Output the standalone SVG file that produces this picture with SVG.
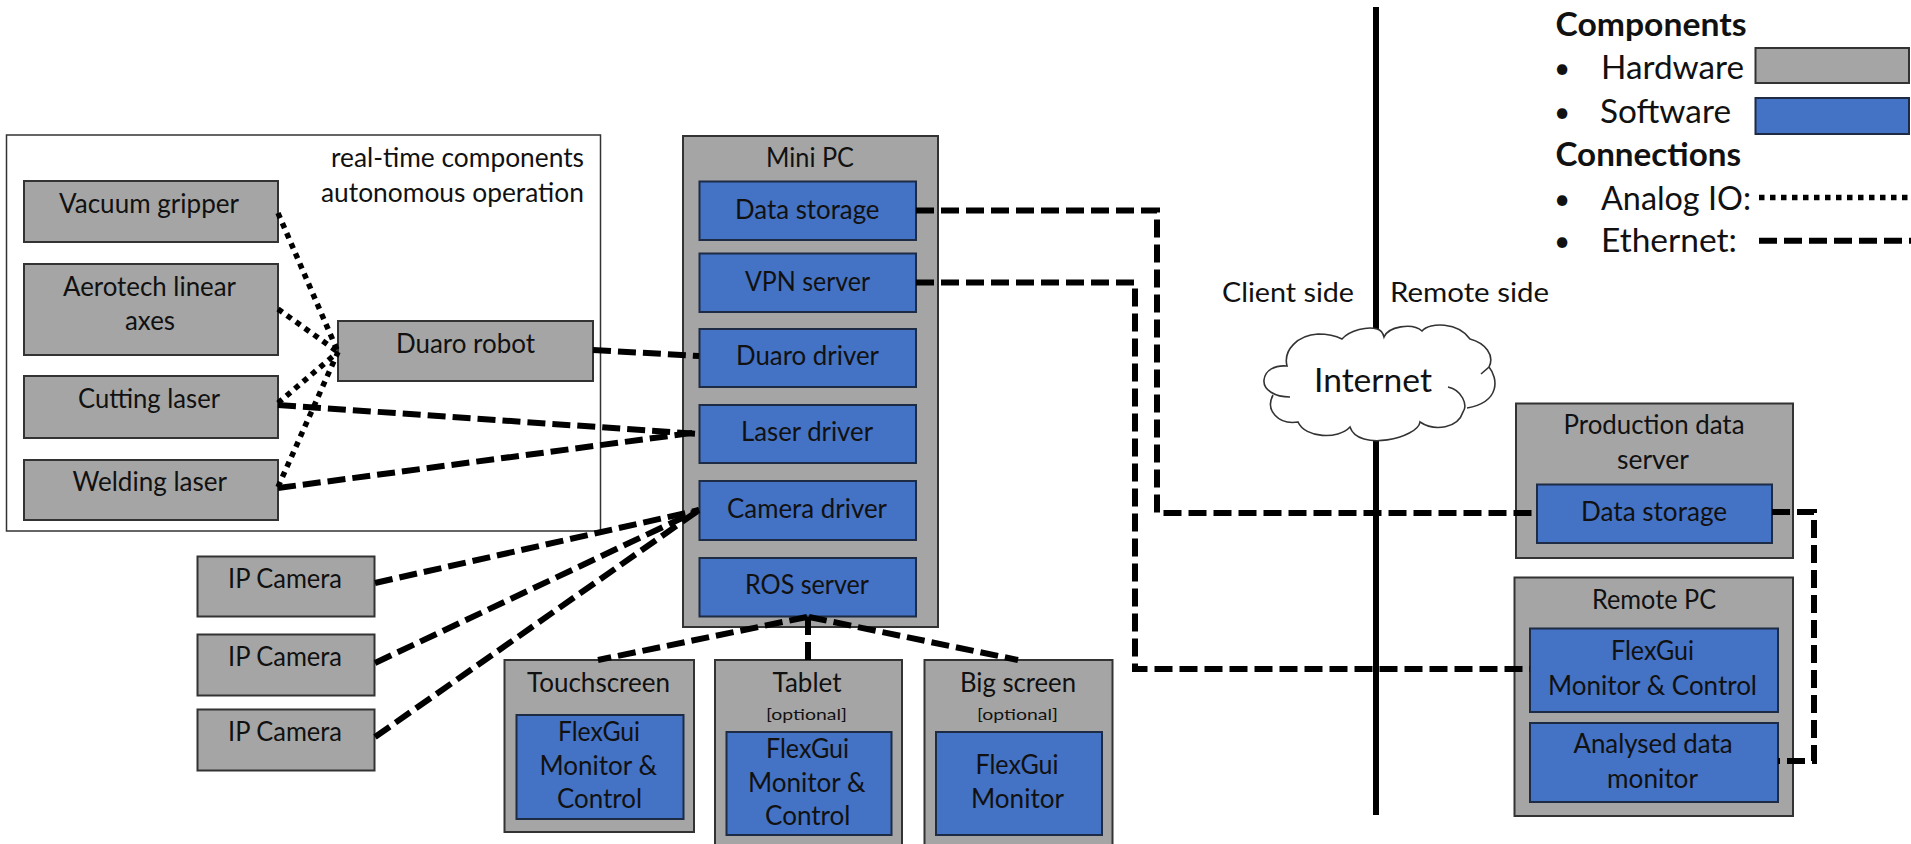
<svg xmlns="http://www.w3.org/2000/svg" width="1911" height="844" viewBox="0 0 1911 844">
<style>
text{font-family:Lato,"Open Sans","Liberation Sans",sans-serif;font-size:26px;fill:#111}
.l{font-size:32px}.b{font-size:32px;font-weight:700}.s{font-size:16px}.i{font-size:33px}.dot{font-size:28px}
.hw{fill:#a5a5a5;stroke:#333;stroke-width:2}
.sw{fill:#4472c4;stroke:#1d2b45;stroke-width:2}
.eth{fill:none;stroke:#000;stroke-width:6;stroke-dasharray:18 7}
.io{fill:none;stroke:#000;stroke-width:5.5;stroke-dasharray:5.5 5.5}
</style>
<rect width="1911" height="844" fill="#fff"/>
<g id="internet-divider"><path d="M1376 7V335M1376 440V815" stroke="#000" stroke-width="6" fill="none"/></g>
<g id="internet">
<path d="M1290 397C1275 397 1263 390 1264 380C1265 370 1275 365 1287 366C1283 350 1298 335 1318 334C1328 334 1336 336 1342 339C1350 330 1368 326 1377 329C1381 330 1383 333 1384 337C1388 327 1412 322 1422 331C1430 322 1458 322 1470 339C1485 343 1495 355 1489 367C1498 378 1501 402 1467 408C1465 425 1440 432 1420 422C1418 438 1358 452 1350 427C1338 440 1305 438 1298 422C1278 425 1265 410 1273 395Z" fill="#fff"/>
<path d="M1290 397C1275 397 1263 390 1264 380C1265 370 1275 365 1287 366C1283 350 1298 335 1318 334C1328 334 1336 336 1342 339C1350 330 1368 326 1377 329C1381 330 1383 333 1384 337C1388 327 1412 322 1422 331C1430 322 1458 322 1470 339C1485 343 1495 355 1489 367L1481 374M1489 367C1498 378 1501 402 1467 408M1448 387C1462 390 1468 405 1463 412C1458 428 1435 432 1420 422C1418 438 1358 452 1350 427C1338 440 1305 438 1298 422C1278 425 1265 410 1273 395" fill="none" stroke="#333" stroke-width="1.6"/>
<text class="i" x="1314" y="392" textLength="118" lengthAdjust="spacingAndGlyphs">Internet</text>
</g>
<g id="rt-container"><rect x="6.5" y="135" width="594" height="396" fill="#fff" stroke="#333" stroke-width="1.5"/>
<text x="331" y="167" textLength="253" lengthAdjust="spacingAndGlyphs">real-time components</text>
<text x="321" y="202" textLength="263" lengthAdjust="spacingAndGlyphs">autonomous operation</text></g>
<g id="vacuum"><rect class="hw" x="24" y="181" width="254" height="61"/><text x="59" y="213" textLength="180" lengthAdjust="spacingAndGlyphs">Vacuum gripper</text></g>
<g id="aerotech"><rect class="hw" x="24" y="264" width="254" height="91"/><text x="63" y="296" textLength="173" lengthAdjust="spacingAndGlyphs">Aerotech linear</text><text x="125" y="330" textLength="50" lengthAdjust="spacingAndGlyphs">axes</text></g>
<g id="cutting"><rect class="hw" x="24" y="376" width="254" height="62"/><text x="78" y="408" textLength="142" lengthAdjust="spacingAndGlyphs">Cutting laser</text></g>
<g id="welding"><rect class="hw" x="24" y="460" width="254" height="60"/><text x="72.500" y="491" textLength="154.500" lengthAdjust="spacingAndGlyphs">Welding laser</text></g>
<g id="duaro"><rect class="hw" x="338" y="321" width="255" height="60"/><text x="396" y="353" textLength="139" lengthAdjust="spacingAndGlyphs">Duaro robot</text></g>
<g id="minipc"><rect class="hw" x="683" y="136" width="255" height="491"/><text x="766" y="167" textLength="88" lengthAdjust="spacingAndGlyphs">Mini PC</text>
<g id="mp-data"><rect class="sw" x="699.500" y="181.500" width="216.500" height="58.500"/><text x="735" y="219" textLength="144.500" lengthAdjust="spacingAndGlyphs">Data storage</text></g>
<g id="mp-vpn"><rect class="sw" x="699.500" y="253.500" width="216.500" height="58.500"/><text x="745" y="291" textLength="125" lengthAdjust="spacingAndGlyphs">VPN server</text></g>
<g id="mp-duaro"><rect class="sw" x="699.500" y="329" width="216.500" height="58"/><text x="736" y="365" textLength="143" lengthAdjust="spacingAndGlyphs">Duaro driver</text></g>
<g id="mp-laser"><rect class="sw" x="699.500" y="405" width="216.500" height="58"/><text x="741" y="441" textLength="132" lengthAdjust="spacingAndGlyphs">Laser driver</text></g>
<g id="mp-camera"><rect class="sw" x="699.500" y="481" width="216.500" height="59"/><text x="727" y="518" textLength="160" lengthAdjust="spacingAndGlyphs">Camera driver</text></g>
<g id="mp-ros"><rect class="sw" x="699.500" y="558" width="216.500" height="58.500"/><text x="745" y="594" textLength="124" lengthAdjust="spacingAndGlyphs">ROS server</text></g>
</g>
<g id="cam1"><rect class="hw" x="197.500" y="556.500" width="177" height="60"/><text x="228" y="588" textLength="114" lengthAdjust="spacingAndGlyphs">IP Camera</text></g>
<g id="cam2"><rect class="hw" x="197.500" y="634.500" width="177" height="61"/><text x="228" y="666" textLength="114" lengthAdjust="spacingAndGlyphs">IP Camera</text></g>
<g id="cam3"><rect class="hw" x="197.500" y="709.500" width="177" height="61"/><text x="228" y="741" textLength="114" lengthAdjust="spacingAndGlyphs">IP Camera</text></g>
<g id="touchscreen"><rect class="hw" x="504.500" y="660" width="189.500" height="172"/><text x="527" y="692" textLength="143" lengthAdjust="spacingAndGlyphs">Touchscreen</text>
<rect class="sw" x="516.500" y="715" width="167" height="104"/>
<text x="558" y="741" textLength="82" lengthAdjust="spacingAndGlyphs">FlexGui</text><text x="539.500" y="775" textLength="117.500" lengthAdjust="spacingAndGlyphs">Monitor &amp;</text><text x="557" y="808" textLength="85" lengthAdjust="spacingAndGlyphs">Control</text></g>
<g id="tablet"><rect class="hw" x="715" y="660" width="187" height="190"/><text x="772.500" y="692" textLength="69" lengthAdjust="spacingAndGlyphs">Tablet</text><text class="s" x="766" y="720" textLength="81" lengthAdjust="spacingAndGlyphs">[optional]</text>
<rect class="sw" x="726.500" y="732" width="165" height="103"/>
<text x="766" y="758" textLength="83" lengthAdjust="spacingAndGlyphs">FlexGui</text><text x="748" y="792" textLength="117.500" lengthAdjust="spacingAndGlyphs">Monitor &amp;</text><text x="765" y="825" textLength="85.500" lengthAdjust="spacingAndGlyphs">Control</text></g>
<g id="bigscreen"><rect class="hw" x="924.500" y="660" width="188" height="190"/><text x="960" y="692" textLength="116" lengthAdjust="spacingAndGlyphs">Big screen</text><text class="s" x="977" y="720" textLength="81" lengthAdjust="spacingAndGlyphs">[optional]</text>
<rect class="sw" x="936" y="732" width="166" height="103"/>
<text x="975.500" y="774" textLength="83" lengthAdjust="spacingAndGlyphs">FlexGui</text><text x="971" y="808" textLength="93" lengthAdjust="spacingAndGlyphs">Monitor</text></g>
<g id="production"><rect class="hw" x="1516" y="403.500" width="277" height="154.500"/><text x="1563.500" y="434" textLength="181" lengthAdjust="spacingAndGlyphs">Production data</text><text x="1617" y="469" textLength="72" lengthAdjust="spacingAndGlyphs">server</text>
<rect class="sw" x="1537" y="484.500" width="235" height="58.500"/><text x="1581" y="521" textLength="146" lengthAdjust="spacingAndGlyphs">Data storage</text></g>
<g id="remote"><rect class="hw" x="1514.500" y="577.500" width="278.500" height="238.500"/><text x="1592" y="609" textLength="124" lengthAdjust="spacingAndGlyphs">Remote PC</text>
<rect class="sw" x="1530" y="628.500" width="248" height="83.500"/><text x="1611" y="660" textLength="83" lengthAdjust="spacingAndGlyphs">FlexGui</text><text x="1548" y="695" textLength="209" lengthAdjust="spacingAndGlyphs">Monitor &amp; Control</text>
<rect class="sw" x="1530" y="723" width="248" height="79"/><text x="1573.500" y="753" textLength="159" lengthAdjust="spacingAndGlyphs">Analysed data</text><text x="1607" y="788" textLength="91" lengthAdjust="spacingAndGlyphs">monitor</text></g>
<g id="labels">
<text x="1222" y="302" textLength="132" lengthAdjust="spacingAndGlyphs">Client side</text>
<text x="1390" y="302" textLength="159" lengthAdjust="spacingAndGlyphs">Remote side</text></g>
<g id="legend">
<text class="b" x="1555.500" y="36" textLength="191" lengthAdjust="spacingAndGlyphs">Components</text>
<text class="dot" x="1554" y="78">•</text><text class="l" x="1601" y="79" textLength="143" lengthAdjust="spacingAndGlyphs">Hardware</text>
<rect class="hw" x="1755.500" y="48" width="153.500" height="35"/>
<text class="dot" x="1554" y="122">•</text><text class="l" x="1600" y="123" textLength="131" lengthAdjust="spacingAndGlyphs">Software</text>
<rect class="sw" x="1755.500" y="98" width="153.500" height="36"/>
<text class="b" x="1555.500" y="166" textLength="185.500" lengthAdjust="spacingAndGlyphs">Connections</text>
<text class="dot" x="1554" y="209">•</text><text class="l" x="1601" y="210" textLength="150" lengthAdjust="spacingAndGlyphs">Analog IO:</text>
<text class="dot" x="1554" y="251">•</text><text class="l" x="1601" y="252" textLength="136" lengthAdjust="spacingAndGlyphs">Ethernet:</text>
<path class="io" d="M1759 197.500H1911"/>
<path class="eth" d="M1759 240.700H1911"/>
</g>
<g id="connectors">
<path class="io" d="M278 213L338 352"/>
<path class="io" d="M278 309L338 352"/>
<path class="io" d="M278 403L338 352"/>
<path class="io" d="M278 487L338 352"/>
<path class="eth" d="M278 405L699 434"/>
<path class="eth" d="M278 488L699 432"/>
<path class="eth" d="M593 350L699 356"/>
<path class="eth" d="M375 583L699 510"/>
<path class="eth" d="M375 663L699 510"/>
<path class="eth" d="M375 737L699 510"/>
<path class="eth" d="M807 617L598 660"/>
<path class="eth" d="M808 617V660"/>
<path class="eth" d="M809 617L1018 660"/>
<path class="eth" d="M916 210.500H1157V513H1537"/>
<path class="eth" d="M916 282.500H1135V669H1530"/>
<path class="eth" d="M1772 512H1814V761H1778"/>
</g>
</svg>
